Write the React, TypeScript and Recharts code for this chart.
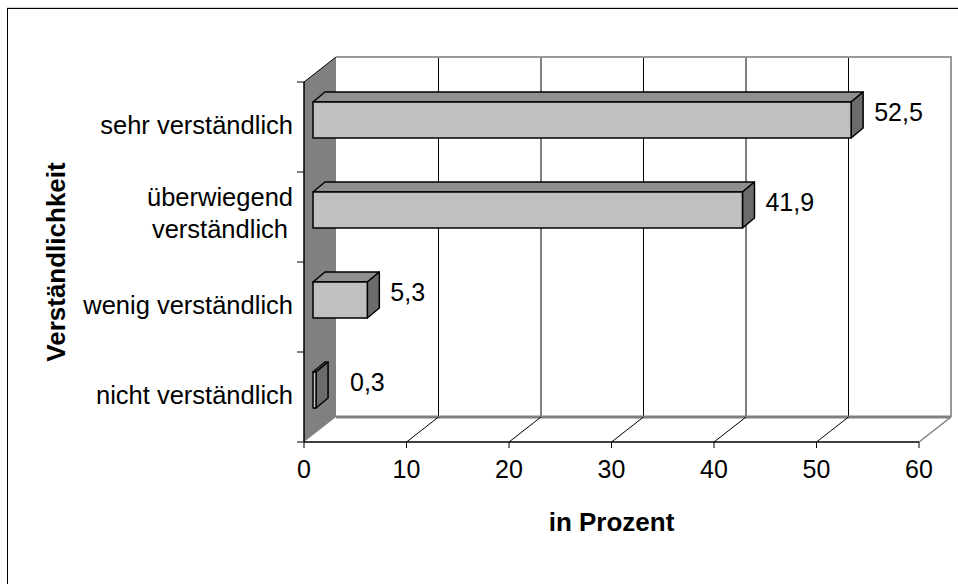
import React from 'react';
import { BarChart, Bar, XAxis, YAxis, CartesianGrid, ReferenceArea, LabelList, Label } from 'recharts';

// data (percent per rating)
const CATEGORIES = ['sehr verständlich', 'überwiegend\nverständlich', 'wenig verständlich', 'nicht verständlich'];
const PERCENT = [52.5, 41.9, 5.3, 0.3];
const X_TICKS = [0, 10, 20, 30, 40, 50, 60];

const data = CATEGORIES.map((name, i) => ({ name, value: PERCENT[i] }));

// layout
const W = 958;
const H = 584;
const LEFT = 304;
const TOP = 82;
const RIGHT = 39;
const X_AXIS_H = 142;
const PLOT_W = W - LEFT - RIGHT;
const PLOT_H = H - TOP - X_AXIS_H;
const HALF_BAND = PLOT_H / CATEGORIES.length / 2;

// fake 3d depth (excel style)
const DEPTH_X = 32;
const DEPTH_Y = 25;
const BAR_OFF_X = 9;
const BAR_OFF_Y = 7;
const BAR_DX = 12;
const BAR_DY = 10;

const FONT = 'Arial, "Liberation Sans", sans-serif';

const fmt = (v: number) => String(v).replace('.', ',');

const Bar3D = (props: any) => {
    const { x, y, width, height } = props;
    const fx = x + BAR_OFF_X;
    const fy = y - BAR_OFF_Y;
    const ex = fx + Math.max(width, 0);
    return (
        <g stroke="#000" strokeWidth={1.5} strokeLinejoin="round">
            <polygon
                points={`${fx},${fy} ${fx + BAR_DX},${fy - BAR_DY} ${ex + BAR_DX},${fy - BAR_DY} ${ex},${fy}`}
                fill="#8f8f8f"
            />
            <polygon
                points={`${ex},${fy} ${ex + BAR_DX},${fy - BAR_DY} ${ex + BAR_DX},${fy + height - BAR_DY} ${ex},${fy + height}`}
                fill="#6b6b6b"
            />
            <rect x={fx} y={fy} width={Math.max(width, 0)} height={height} fill="#c0c0c0" />
        </g>
    );
};

const Walls = (props: any) => {
    const { x, y, width, height } = props;
    const bx = x + DEPTH_X;
    const by = y - DEPTH_Y;
    return (
        <g>
            <polygon points={`${x},${y} ${bx},${by} ${bx},${by + height} ${x},${y + height}`} fill="#808080" />
            <line x1={x} y1={y} x2={bx} y2={by} stroke="#000" />
            <polyline
                points={`${bx},${by} ${bx + width},${by} ${bx + width},${by + height}`}
                fill="none"
                stroke="#999"
                strokeWidth={2}
            />
            <line x1={bx} y1={by + height} x2={bx + width} y2={by + height} stroke="#808080" strokeWidth={3} />
            <line x1={x + width} y1={y + height} x2={bx + width} y2={by + height} stroke="#808080" strokeWidth={1.5} />
        </g>
    );
};

const XTick = (props: any) => {
    const { payload } = props;
    const x = payload?.coordinate ?? props.x;
    const v = payload.value;
    const y0 = TOP + PLOT_H;
    return (
        <g>
            <line x1={x} y1={y0} x2={x} y2={y0 + 6} stroke="#000" />
            {v > X_TICKS[0] && v < X_TICKS[X_TICKS.length - 1] && (
                <line x1={x} y1={y0} x2={x + DEPTH_X} y2={y0 - DEPTH_Y} stroke="#000" />
            )}
            <text x={x} y={y0 + 36} textAnchor="middle" fontSize={25} fontFamily={FONT} fill="#000">
                {v}
            </text>
        </g>
    );
};

const YTick = (props: any) => {
    const { y, payload, index } = props;
    const lines = String(payload.value).split('\n');
    const tx = LEFT - 11;
    return (
        <g>
            <line x1={LEFT - 7} y1={y - HALF_BAND} x2={LEFT} y2={y - HALF_BAND} stroke="#000" />
            {index === CATEGORIES.length - 1 && (
                <line x1={LEFT - 7} y1={y + HALF_BAND} x2={LEFT} y2={y + HALF_BAND} stroke="#000" />
            )}
            {lines.map((line, i) => (
                <text
                    key={i}
                    x={tx - (i > 0 ? 5 : 0)}
                    y={lines.length === 1 ? y + 7 : y - 11 + i * 32}
                    textAnchor="end"
                    fontSize={25.5}
                    fontFamily={FONT}
                    fill="#000"
                >
                    {line}
                </text>
            ))}
        </g>
    );
};

const ValueLabel = (props: any) => {
    const { x, y, width, height, value } = props;
    const lx = Math.max(x + width + DEPTH_X, x + 46);
    return (
        <text x={lx} y={y + height / 2 - BAR_OFF_Y + 1} fontSize={25} fontFamily={FONT} fill="#000">
            {fmt(value)}
        </text>
    );
};

const backGrid = ({ xAxis, offset }: any) => {
    const inner = X_TICKS.slice(1, -1);
    const s = xAxis?.scale;
    if (typeof s === 'function') return inner.map((t) => s(t) + DEPTH_X);
    if (s && typeof s.map === 'function') return inner.map((t) => s.map(t) + DEPTH_X);
    return inner.map((t) => offset.left + (offset.width * t) / X_TICKS[X_TICKS.length - 1] + DEPTH_X);
};

export default function App() {
    return (
        <div style={{ position: 'fixed', left: 0, top: 0, width: W, height: H, background: '#fff', overflow: 'hidden' }}>
            <div
                style={{
                    position: 'absolute',
                    left: 7,
                    top: 8,
                    width: 2000,
                    height: 2000,
                    borderLeft: '1px solid #000',
                    borderTop: '1px solid #000',
                    boxShadow: '0 -1px 0 #d4d4d4',
                }}
            />
            <div style={{ position: 'absolute', left: 0, top: 0 }}>
                <BarChart
                    width={W}
                    height={H}
                    data={data}
                    layout="vertical"
                    margin={{ top: TOP, right: RIGHT, bottom: 0, left: 0 }}
                >
                    <CartesianGrid
                        x={LEFT + DEPTH_X}
                        y={TOP - DEPTH_Y}
                        width={PLOT_W}
                        height={PLOT_H}
                        horizontal={false}
                        stroke="#000"
                        strokeDasharray=""
                        verticalCoordinatesGenerator={backGrid}
                    />
                    <ReferenceArea x1={0} x2={60} zIndex={-50} shape={(p: any) => <Walls {...p} />} />
                    <XAxis
                        type="number"
                        domain={[0, 60]}
                        ticks={X_TICKS}
                        interval={0}
                        height={X_AXIS_H}
                        axisLine={{ stroke: '#000', strokeWidth: 1.5 }}
                        tickLine={false}
                        tick={<XTick />}
                    >
                        <Label
                            content={() => (
                                <text
                                    x={LEFT + PLOT_W / 2}
                                    y={TOP + PLOT_H + 89}
                                    textAnchor="middle"
                                    fontSize={26}
                                    fontWeight="bold"
                                    fontFamily={FONT}
                                    fill="#000"
                                >
                                    in Prozent
                                </text>
                            )}
                        />
                    </XAxis>
                    <YAxis
                        type="category"
                        dataKey="name"
                        width={LEFT}
                        interval={0}
                        axisLine={{ stroke: '#000', strokeWidth: 1.5 }}
                        tickLine={false}
                        tick={<YTick />}
                    >
                        <Label
                            content={() => {
                                const cx = 65;
                                const cy = TOP + PLOT_H / 2;
                                return (
                                    <text
                                        x={cx}
                                        y={cy}
                                        transform={`rotate(-90, ${cx}, ${cy})`}
                                        textAnchor="middle"
                                        fontSize={26}
                                        fontWeight="bold"
                                        fontFamily={FONT}
                                        fill="#000"
                                    >
                                        Verständlichkeit
                                    </text>
                                );
                            }}
                        />
                    </YAxis>
                    <Bar dataKey="value" barSize={36} shape={(p: any) => <Bar3D {...p} />} isAnimationActive={false}>
                        <LabelList dataKey="value" content={(p: any) => <ValueLabel {...p} />} />
                    </Bar>
                </BarChart>
            </div>
        </div>
    );
}
